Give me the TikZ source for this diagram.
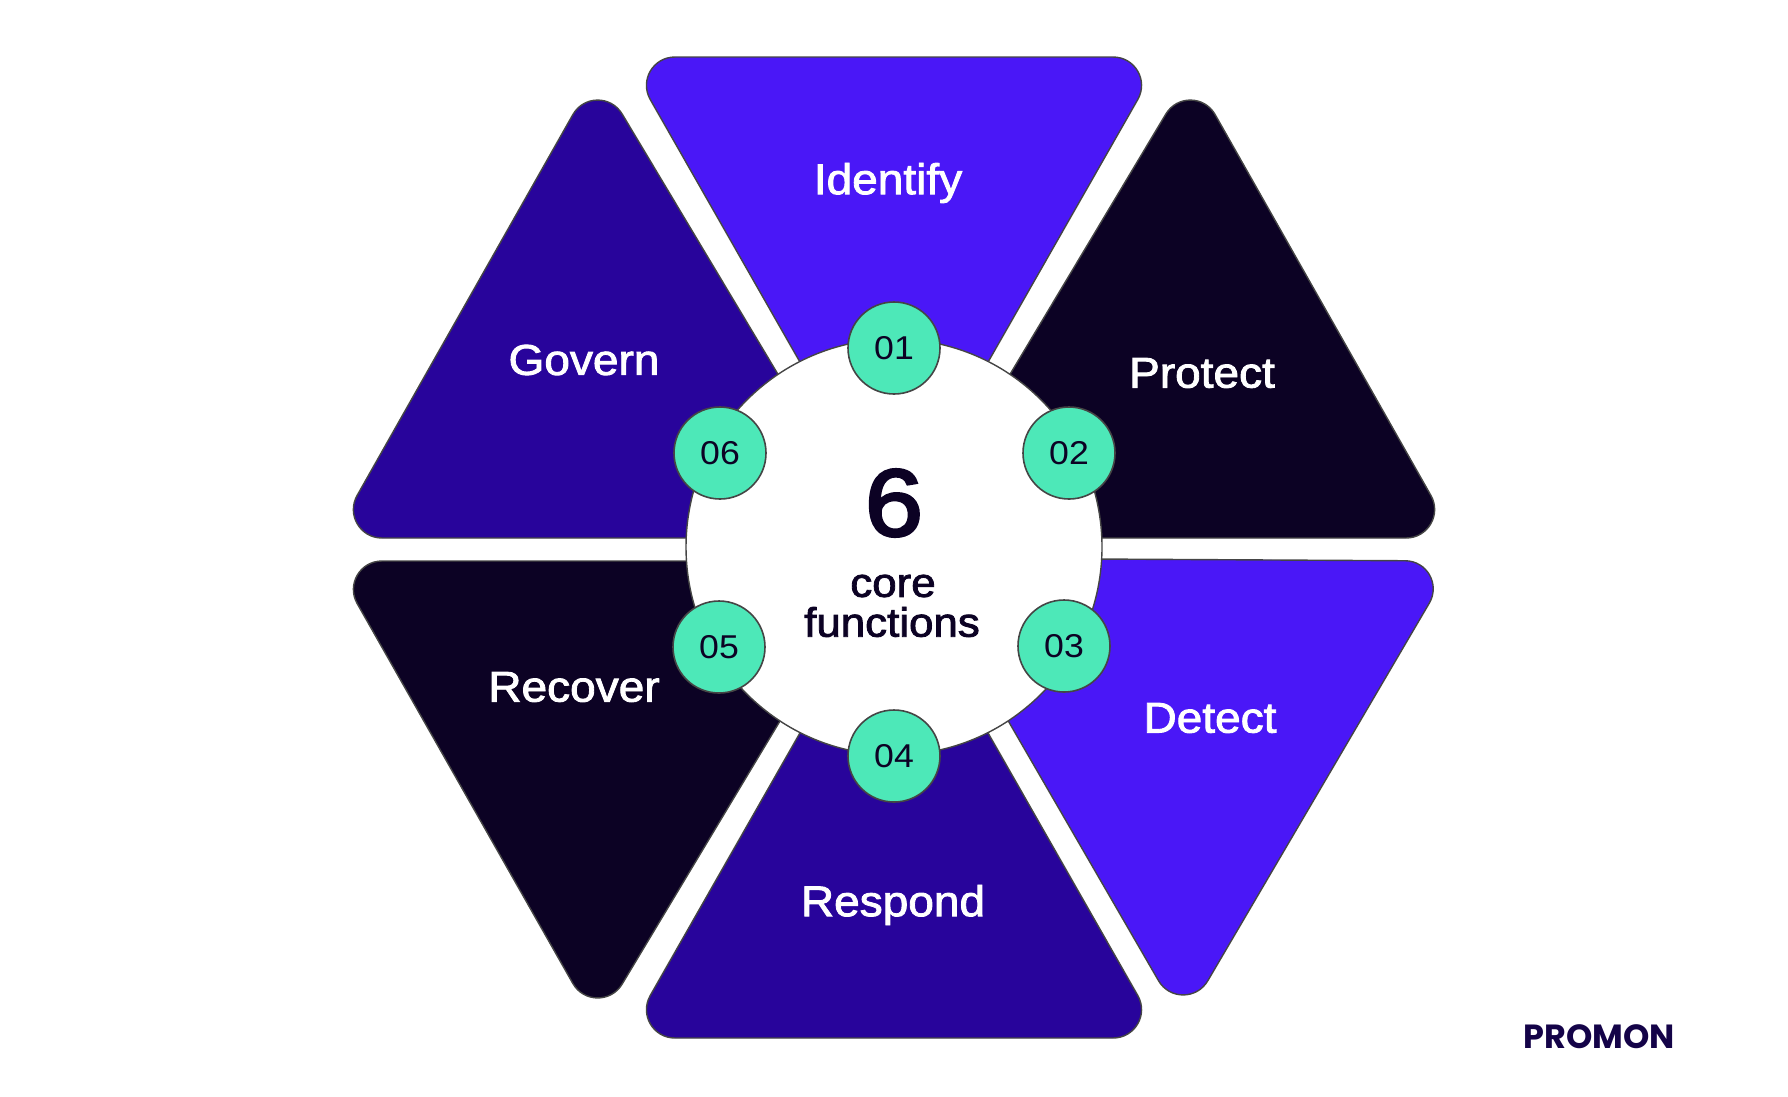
\documentclass[tikz,border=0pt]{standalone}
\usepackage{fontspec}
\usepackage{xcolor}
\usetikzlibrary{calc}
\setmainfont{Liberation Sans}
\newfontfamily\labelfont[FakeBold=2,FakeStretch=1.07]{Liberation Sans}
\newfontfamily\sixfont[FakeBold=3,FakeStretch=1.1]{Liberation Sans}
\newfontfamily\numfont[FakeStretch=1.08]{Liberation Sans}
\newfontfamily\logofont{Poppins}
\definecolor{PromonViolet}{HTML}{4A17F7}
\definecolor{PromonIndigo}{HTML}{28049B}
\definecolor{PromonInk}{HTML}{0C0224}
\definecolor{PromonMint}{HTML}{4DE8B8}
\definecolor{PromonEdge}{HTML}{454545}
\tikzset{
  wedge/.style={draw=PromonEdge, line width=1.4pt},
  hub/.style={circle, draw=PromonEdge, fill=white, line width=1.4pt, minimum size=416pt, inner sep=0pt},
  numdot/.style={circle, draw=PromonEdge, fill=PromonMint, line width=1.6pt, minimum size=92pt, inner sep=0pt,
    text=PromonInk, font=\numfont\fontsize{33}{33}\selectfont},
  wedgelabel/.style={text=white, font=\labelfont\fontsize{43}{43}\selectfont},
  hubtext/.style={text=PromonInk, font=\labelfont\fontsize{41}{41}\selectfont}
}
\newcommand{\drawwedge}[4]{\draw[wedge, fill=#4]
  ($(#1)!49pt!(#2)$) -- ($(#2)!49pt!(#1)$)
  .. controls ($(#2)!27pt!(#1)$) and ($(#2)!27pt!(#3)$) .. ($(#2)!49pt!(#3)$)
  -- ($(#3)!49pt!(#2)$)
  .. controls ($(#3)!27pt!(#2)$) and ($(#3)!27pt!(#1)$) .. ($(#3)!49pt!(#1)$)
  -- ($(#1)!49pt!(#3)$)
  .. controls ($(#1)!27pt!(#3)$) and ($(#1)!27pt!(#2)$) .. cycle;}
\begin{document}
\begin{tikzpicture}[x=1pt,y=-1pt]
\useasboundingbox (0,0) rectangle (1788,1096);
\drawwedge{626,57}{1162,57}{894,527}{PromonViolet}
\drawwedge{912,538}{1191,72}{1455,538}{PromonInk}
\drawwedge{914,558}{1454,561}{1183,1023}{PromonViolet}
\drawwedge{626,1038}{1162,1038}{894,568}{PromonIndigo}
\drawwedge{333,561}{876,561}{597,1026}{PromonInk}
\drawwedge{333,538}{876,538}{597,72}{PromonIndigo}
\node[hub] (core) at (894,547) {};
\node[numdot] (n01) at (894,348) {01};
\node[numdot] (n02) at (1069,453) {02};
\node[numdot] (n03) at (1064,646) {03};
\node[numdot] (n04) at (894,756) {04};
\node[numdot] (n05) at (719,647) {05};
\node[numdot] (n06) at (720,453) {06};
\node[wedgelabel] (identify) at (888,183) {Identify};
\node[wedgelabel] (protect) at (1202,373) {Protect};
\node[wedgelabel] (detect) at (1210,718) {Detect};
\node[wedgelabel] (respond) at (893,905) {Respond};
\node[wedgelabel] (recover) at (574,687) {Recover};
\node[wedgelabel] (govern) at (584,360) {Govern};
\node[text=PromonInk, font=\sixfont\fontsize{95}{95}\selectfont] (six) at (894,503) {6};
\node[hubtext] (coreword) at (893,586) {core};
\node[hubtext] (functions) at (892,622) {functions};
\node[text=PromonInk!70!PromonIndigo, font=\logofont\bfseries\fontsize{33.5}{33.5}\selectfont] (promon) at (1599,1037) {PROMON};
\end{tikzpicture}
\end{document}
